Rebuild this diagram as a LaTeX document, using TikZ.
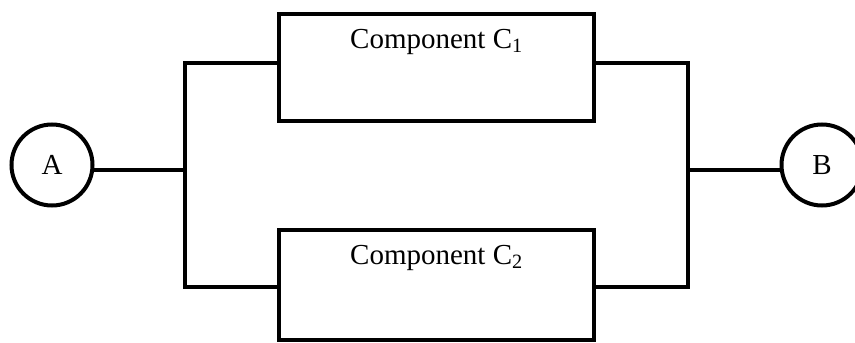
\documentclass[tikz,border=0pt]{standalone}
\usepackage{fontspec}
\setmainfont{Liberation Serif}
\usetikzlibrary{positioning}

\begin{document}
\begin{tikzpicture}
    [ x = 1pt, y = 1pt
    , terminal/.style =
      { draw, circle, line width = 4pt, minimum size = 81pt, inner sep = 0pt,
        font = \fontsize{29}{34}\selectfont }
    , component/.style =
      { draw, rectangle, line width = 4pt, minimum width = 315pt,
        minimum height = 107pt, inner sep = 0pt }
    , caption/.style =
      { anchor = base, inner sep = 0pt, font = \fontsize{29}{34}\selectfont }
    , wire/.style =
      { line width = 4pt, line cap = rect }
    ]
    \useasboundingbox (0,0) rectangle (855,-343);

    \node [terminal] (A) at (52,-165) {A};
    \node [terminal] (B) at (822,-165) {B};
    \node [component] (C1) at (436.5,-67.5) {};
    \node [component, minimum height = 110pt] (C2) at (436.5,-285) {};
    \node [caption] (C1text) at ([yshift=-36pt]C1.north) {Component C\textsubscript{1}};
    \node [caption] (C2text) at ([yshift=-36pt]C2.north) {Component C\textsubscript{2}};

    \coordinate (left) at (185,-170);
    \coordinate (lefttop) at (185,-63);
    \coordinate (leftbot) at (185,-287);
    \coordinate (right) at (688,-170);
    \coordinate (righttop) at (688,-63);
    \coordinate (rightbot) at (688,-287);

    \draw [wire] (A.east |- left) -- (left);
    \draw [wire] (C1.west |- lefttop) -- (lefttop) -- (leftbot) -- (C2.west |- leftbot);
    \draw [wire] (C1.east |- righttop) -- (righttop) -- (rightbot) -- (C2.east |- rightbot);
    \draw [wire] (right) -- (B.west |- right);
\end{tikzpicture}
\end{document}
